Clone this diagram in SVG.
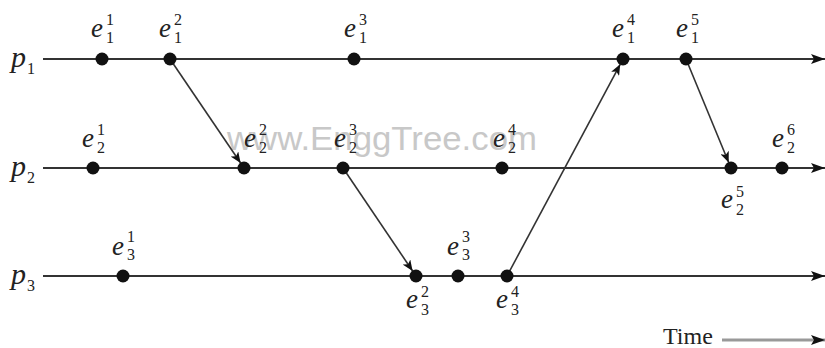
<svg xmlns="http://www.w3.org/2000/svg" width="825" height="348" viewBox="0 0 825 348">
<defs>
<style>
.e{font-family:"Liberation Serif","Times New Roman",serif;font-style:italic;font-size:27px;fill:#222}
.p{font-family:"Liberation Serif","Times New Roman",serif;font-style:italic;font-size:30px;fill:#222}
.s{font-family:"Liberation Serif","Times New Roman",serif;font-size:16px;fill:#222}
.t{font-family:"Liberation Serif","Times New Roman",serif;font-size:24px;fill:#222}
.wm{font-family:"Liberation Sans",Arial,sans-serif;font-size:33px;fill:#c8c8c8}
.proc{stroke:#333;stroke-width:2;fill:none}
.msg{stroke:#333;stroke-width:1.6;fill:none}
circle{fill:#111}
</style>
<marker id="ah" viewBox="0 0 14 10" refX="14" refY="5" markerWidth="14" markerHeight="10" markerUnits="userSpaceOnUse" orient="auto">
<path d="M0,0 L14,5 L0,10 L3,5 z" fill="#111"/>
</marker>
<marker id="am" viewBox="0 0 12 10" refX="12" refY="5" markerWidth="12" markerHeight="9" markerUnits="userSpaceOnUse" orient="auto">
<path d="M0,0 L12,5 L0,10 L3,5 z" fill="#111"/>
</marker>
</defs>
<rect width="825" height="348" fill="#fff"/>
<text class="wm" x="227" y="150" textLength="310" lengthAdjust="spacingAndGlyphs">www.EnggTree.com</text>

<g id="connectors">
<line class="proc" x1="43" y1="59" x2="825" y2="59" marker-end="url(#ah)"/>
<line class="proc" x1="43" y1="168" x2="825" y2="168" marker-end="url(#ah)"/>
<line class="proc" x1="43" y1="276" x2="825" y2="276" marker-end="url(#ah)"/>
<line class="msg" x1="170" y1="59" x2="240.6" y2="163" marker-end="url(#am)"/>
<line class="msg" x1="343" y1="168" x2="412.6" y2="271" marker-end="url(#am)"/>
<line class="msg" x1="507" y1="276" x2="620.2" y2="64.3" marker-end="url(#am)"/>
<line class="msg" x1="686" y1="59" x2="728.7" y2="162.5" marker-end="url(#am)"/>
</g>

<g id="p1"><text class="p" x="11" y="67">p</text><text class="s" x="27" y="74">1</text></g>
<g id="p2"><text class="p" x="11" y="176">p</text><text class="s" x="27" y="183">2</text></g>
<g id="p3"><text class="p" x="11" y="284">p</text><text class="s" x="27" y="291">3</text></g>

<g id="e1-1"><circle cx="102" cy="59" r="6.5"/><text class="e" x="91" y="37">e</text><text class="s" x="106" y="25">1</text><text class="s" x="106" y="43">1</text></g>
<g id="e1-2"><circle cx="170" cy="59" r="6.5"/><text class="e" x="159" y="37">e</text><text class="s" x="174" y="25">2</text><text class="s" x="174" y="43">1</text></g>
<g id="e1-3"><circle cx="354" cy="59" r="6.5"/><text class="e" x="344" y="37">e</text><text class="s" x="359" y="25">3</text><text class="s" x="359" y="43">1</text></g>
<g id="e1-4"><circle cx="623" cy="59" r="6.5"/><text class="e" x="612" y="37">e</text><text class="s" x="627" y="25">4</text><text class="s" x="627" y="43">1</text></g>
<g id="e1-5"><circle cx="686" cy="59" r="6.5"/><text class="e" x="676" y="37">e</text><text class="s" x="691" y="25">5</text><text class="s" x="691" y="43">1</text></g>

<g id="e2-1"><circle cx="93" cy="168" r="6.5"/><text class="e" x="82" y="147">e</text><text class="s" x="97" y="135">1</text><text class="s" x="97" y="153">2</text></g>
<g id="e2-2"><circle cx="244" cy="168" r="6.5"/><text class="e" x="244" y="147">e</text><text class="s" x="259" y="135">2</text><text class="s" x="259" y="153">2</text></g>
<g id="e2-3"><circle cx="343" cy="168" r="6.5"/><text class="e" x="334" y="147">e</text><text class="s" x="349" y="135">3</text><text class="s" x="349" y="153">2</text></g>
<g id="e2-4"><circle cx="502" cy="168" r="6.5"/><text class="e" x="493" y="147">e</text><text class="s" x="508" y="135">4</text><text class="s" x="508" y="153">2</text></g>
<g id="e2-5"><circle cx="731" cy="168" r="6.5"/><text class="e" x="721" y="208">e</text><text class="s" x="736" y="197">5</text><text class="s" x="736" y="215">2</text></g>
<g id="e2-6"><circle cx="782" cy="168" r="6.5"/><text class="e" x="772" y="147">e</text><text class="s" x="787" y="135">6</text><text class="s" x="787" y="153">2</text></g>

<g id="e3-1"><circle cx="123" cy="276" r="6.5"/><text class="e" x="112" y="255">e</text><text class="s" x="127" y="242">1</text><text class="s" x="127" y="260">3</text></g>
<g id="e3-2"><circle cx="416" cy="276" r="6.5"/><text class="e" x="406" y="308">e</text><text class="s" x="421" y="297">2</text><text class="s" x="421" y="315">3</text></g>
<g id="e3-3"><circle cx="458" cy="276" r="6.5"/><text class="e" x="447" y="255">e</text><text class="s" x="462" y="242">3</text><text class="s" x="462" y="260">3</text></g>
<g id="e3-4"><circle cx="507" cy="276" r="6.5"/><text class="e" x="496" y="308">e</text><text class="s" x="511" y="297">4</text><text class="s" x="511" y="315">3</text></g>

<g id="time"><text class="t" x="663" y="344">Time</text><line x1="722" y1="340" x2="825" y2="340" stroke="#999" stroke-width="3" marker-end="url(#ah)"/></g>
</svg>
